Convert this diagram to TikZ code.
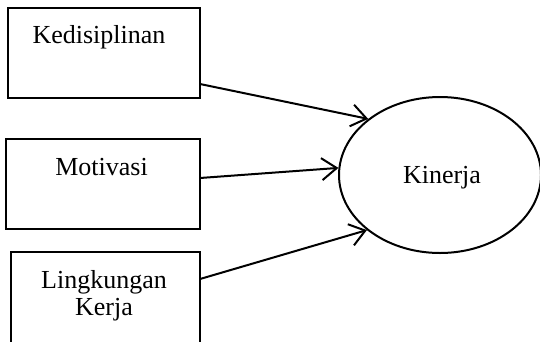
\documentclass[tikz,border=0pt]{standalone}
\usepackage{fontspec}
\setmainfont{Liberation Serif}
\usetikzlibrary{arrows.meta,shapes.geometric}
\tikzset{
  box/.style={draw=black,line width=2pt,rectangle,inner sep=0pt},
  lbl/.style={inner sep=0pt,anchor=base,font=\fontsize{26}{28}\selectfont},
  conn/.style={draw=black,line width=2pt,-{Straight Barb[length=15pt,width=22pt,line width=2pt]}},
}
\begin{document}
\begin{tikzpicture}[x=1pt,y=-1pt]
\useasboundingbox (0,0) rectangle (540,341);
\node[box,minimum width=192pt,minimum height=90pt] (b1) at (104,53) {};
\node[box,minimum width=194pt,minimum height=90pt] (b2) at (103,184) {};
\node[box,minimum width=189pt,minimum height=96pt] (b3) at (105.5,300) {};
\node[lbl] (t1) at (99,43) {Kedisiplinan};
\node[lbl] (t2) at (101.5,175) {Motivasi};
\node[lbl] (t3) at (104,288) {Lingkungan};
\node[lbl] (t4) at (104,315) {Kerja};
\node[draw=black,line width=2pt,ellipse,minimum width=202pt,minimum height=156pt,inner sep=0pt] (k) at (440,175) {};
\node[lbl] (tk) at (442,183) {Kinerja};
\coordinate (s1) at (200,84);
\coordinate (s2) at (200,178);
\coordinate (s3) at (200,279);
\draw[conn] (s1) -- (k.142);
\draw[conn] (s2) -- (k.176);
\draw[conn] (s3) -- (k.217);
\end{tikzpicture}
\end{document}
